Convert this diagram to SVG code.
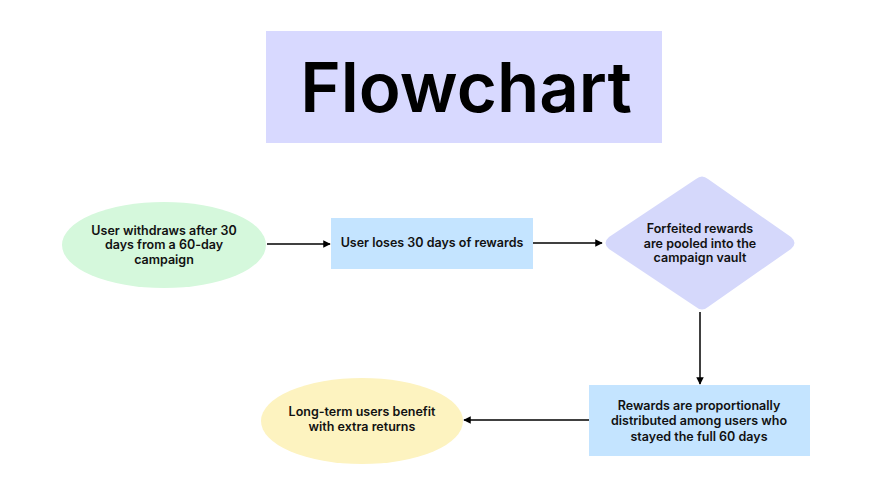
<svg xmlns="http://www.w3.org/2000/svg" width="875" height="492" viewBox="0 0 875 492">
<defs>
<marker id="ah" viewBox="0 0 10 10" refX="9" refY="5" markerWidth="5" markerHeight="5" orient="auto" markerUnits="strokeWidth">
<path d="M0,0 L10,5 L0,10 z" fill="#000"/>
</marker>
<style>
.t{font-family:Inter,"Noto Sans","Liberation Sans",sans-serif;font-weight:600;font-size:12.5px;fill:#111;text-anchor:middle}
.c{stroke:#000;stroke-width:1.5;fill:none;marker-end:url(#ah)}
</style>
</defs>
<rect width="875" height="492" fill="#fff"/>
<g id="title">
<rect x="266" y="31" width="396" height="112" fill="#d8d9ff"/>
<text x="466" y="112" text-anchor="middle" font-family="Inter,'Noto Sans','Liberation Sans',sans-serif" font-weight="600" font-size="69" fill="#000">Flowchart</text>
</g>
<g id="connectors">
<line class="c" x1="267" y1="244" x2="330" y2="244"/>
<line class="c" x1="533" y1="243" x2="602" y2="243"/>
<line class="c" x1="700" y1="312" x2="700" y2="384"/>
<line class="c" x1="589" y1="420" x2="464" y2="420"/>
</g>
<g id="n1">
<ellipse cx="164" cy="245" rx="102" ry="43" fill="#d5f8dc"/>
<text class="t" x="164" y="235">User withdraws after 30</text>
<text class="t" x="164" y="249">days from a 60-day</text>
<text class="t" x="164" y="264">campaign</text>
</g>
<g id="n2">
<rect x="331" y="218" width="202" height="51" fill="#c4e4ff"/>
<text class="t" x="432" y="247">User loses 30 days of rewards</text>
</g>
<g id="n3">
<path d="M696,179 Q702,174 708,179 L791,237 Q798,243 791,249 L708,307 Q702,312 696,307 L609,249 Q602,243 609,237 Z" fill="#d5d8fb"/>
<text class="t" x="700" y="233">Forfeited rewards</text>
<text class="t" x="700" y="248">are pooled into the</text>
<text class="t" x="700" y="262">campaign vault</text>
</g>
<g id="n4">
<rect x="589" y="385" width="221" height="71" fill="#c4e4ff"/>
<text class="t" x="699" y="410">Rewards are proportionally</text>
<text class="t" x="699" y="425">distributed among users who</text>
<text class="t" x="699" y="441">stayed the full 60 days</text>
</g>
<g id="n5">
<ellipse cx="362" cy="421" rx="101" ry="43" fill="#fdf3c0"/>
<text class="t" x="362" y="416">Long-term users benefit</text>
<text class="t" x="362" y="431">with extra returns</text>
</g>
</svg>
